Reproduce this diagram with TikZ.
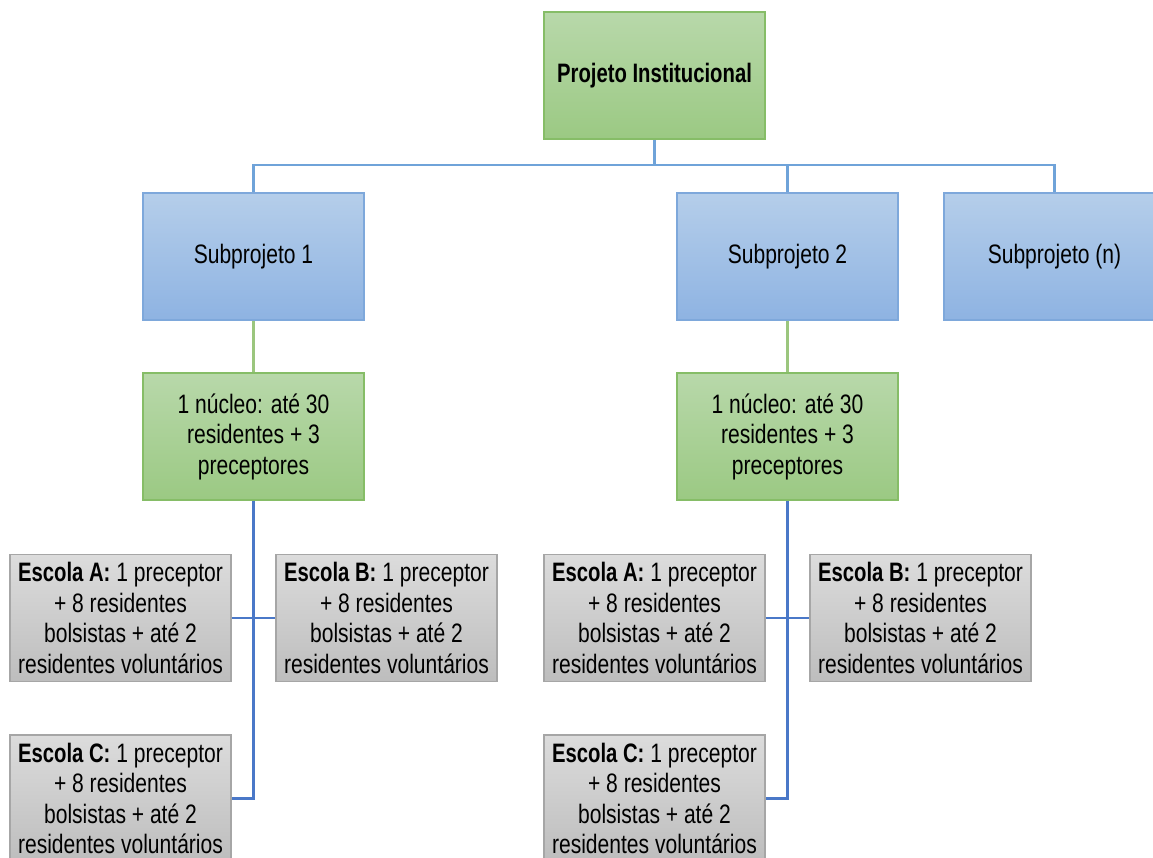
\documentclass[tikz,border=0pt]{standalone}
\usepackage{fontspec}
\setmainfont[FakeStretch=0.79,BoldFeatures={FakeStretch=0.76}]{Liberation Sans}
\definecolor{gtop}{HTML}{B8D8AA}
\definecolor{gbot}{HTML}{9BC983}
\definecolor{gline}{HTML}{86BD67}
\definecolor{btop}{HTML}{B5CEEA}
\definecolor{bbot}{HTML}{8EB3E2}
\definecolor{bline}{HTML}{7EA8DB}
\definecolor{ktop}{HTML}{DCDCDC}
\definecolor{kbot}{HTML}{BDBDBD}
\definecolor{kline}{HTML}{A6A6A6}
\definecolor{topwire}{HTML}{6FA3D9}
\definecolor{lowwire}{HTML}{4A78C8}
\definecolor{midwire}{HTML}{9BC67E}
\tikzset{
  box/.style={draw, line width=0.9pt, minimum width=165.75pt, minimum height=95.25pt,
    inner sep=0pt, align=center, font=\fontsize{20pt}{22.9pt}\selectfont},
  greenbox/.style={box, draw=gline, top color=gtop, bottom color=gbot},
  bluebox/.style={box, draw=bline, top color=btop, bottom color=bbot},
  graybox/.style={box, draw=kline, top color=ktop, bottom color=kbot},
  topwire/.style={draw=topwire, line width=1.6pt},
  midwire/.style={draw=midwire, line width=1.6pt},
  lowwire/.style={draw=lowwire, line width=1.6pt},
}
\begin{document}
\begin{tikzpicture}[x=0.75pt,y=-0.75pt]
\useasboundingbox (0,0) rectangle (1153,857);
\clip (0,0) rectangle (1153,857);

% top level
\node[greenbox, font=\fontsize{20pt}{22.9pt}\selectfont\bfseries] (top) at (654.5,75.5) {Projeto Institucional};

% subprojects
\node[bluebox] (s1) at (253.5,256.5) {Subprojeto 1};
\node[bluebox] (s2) at (787.5,256.5) {Subprojeto 2};
\node[bluebox] (sn) at (1054.5,256.5) {Subprojeto (n)};

% nuclei
\node[greenbox] (n1) at (253.5,436.5) {1 núcleo: até 30\\residentes + 3\\preceptores};
\node[greenbox] (n2) at (787.5,436.5) {1 núcleo: até 30\\residentes + 3\\preceptores};

% schools
\node[graybox] (a1) at (120.5,618) {\textbf{Escola A:} 1 preceptor\\+ 8 residentes\\bolsistas + até 2\\residentes voluntários};
\node[graybox] (b1) at (386.5,618) {\textbf{Escola B:} 1 preceptor\\+ 8 residentes\\bolsistas + até 2\\residentes voluntários};
\node[graybox] (c1) at (120.5,798.5) {\textbf{Escola C:} 1 preceptor\\+ 8 residentes\\bolsistas + até 2\\residentes voluntários};
\node[graybox] (a2) at (654.5,618) {\textbf{Escola A:} 1 preceptor\\+ 8 residentes\\bolsistas + até 2\\residentes voluntários};
\node[graybox] (b2) at (920.5,618) {\textbf{Escola B:} 1 preceptor\\+ 8 residentes\\bolsistas + até 2\\residentes voluntários};
\node[graybox] (c2) at (654.5,798.5) {\textbf{Escola C:} 1 preceptor\\+ 8 residentes\\bolsistas + até 2\\residentes voluntários};

% connectors: top level to subprojects
\coordinate (hub) at (654.5,165);
\draw[topwire] (top.south) -- (hub);
\draw[topwire] (hub) -| (s1.north);
\draw[topwire] (hub) -| (s2.north);
\draw[topwire] (hub) -| (sn.north);

% subprojects to nuclei
\draw[midwire] (s1.south) -- (n1.north);
\draw[midwire] (s2.south) -- (n2.north);

% nuclei to schools
\draw[lowwire] (n1.south) |- (c1.east);
\draw[lowwire] (a1.east) -- (b1.west);
\draw[lowwire] (n2.south) |- (c2.east);
\draw[lowwire] (a2.east) -- (b2.west);
\end{tikzpicture}
\end{document}
